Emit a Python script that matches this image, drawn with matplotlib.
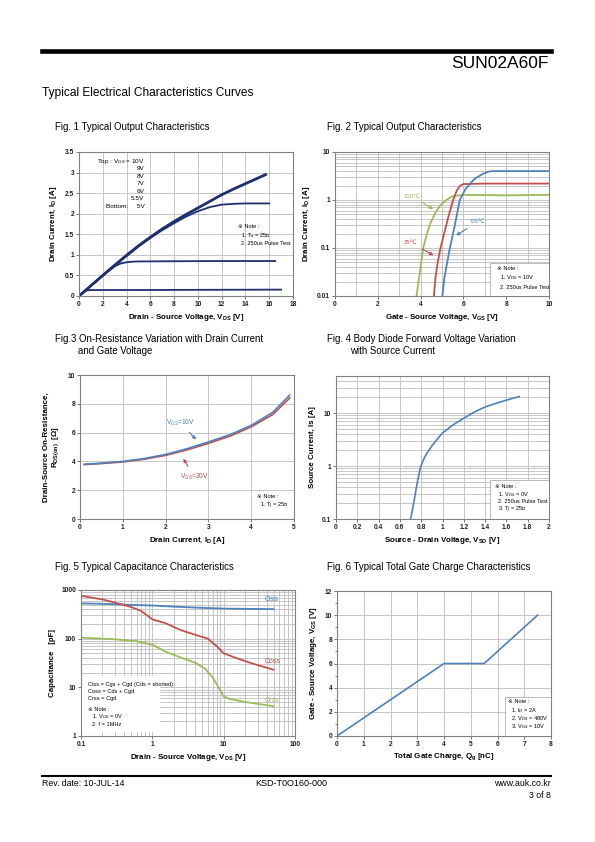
import matplotlib
matplotlib.use('Agg')
import matplotlib.pyplot as plt
from matplotlib.ticker import MultipleLocator, FixedLocator, FuncFormatter
from matplotlib.lines import Line2D
from matplotlib.patches import Rectangle

plt.rcParams['font.family'] = ['Liberation Sans', 'DejaVu Sans', 'Noto Sans CJK KR']
plt.rcParams['mathtext.fontset'] = 'custom'
plt.rcParams['mathtext.rm'] = 'Liberation Sans'
plt.rcParams['mathtext.bf'] = 'Liberation Sans:bold'

W, H = 595, 842

# Fig. 1 output characteristics
vds_top = [0, 1, 2, 3, 4, 5, 6, 7, 8, 9, 10, 11, 12, 13, 14, 15, 15.7]
id_top = [0, 0.25, 0.5, 0.75, 0.99, 1.22, 1.43, 1.63, 1.81, 1.98, 2.14, 2.3, 2.46, 2.6, 2.73, 2.86, 2.95]
vds_6v = [0, 1, 2, 3, 4, 5, 6, 7, 8, 9, 10, 11, 12, 13, 14, 16]
id_6v = [0, 0.25, 0.5, 0.74, 0.97, 1.2, 1.41, 1.6, 1.77, 1.93, 2.06, 2.16, 2.22, 2.24, 2.25, 2.25]
vds_55v = [0, 1, 2, 3, 3.5, 4, 4.5, 5, 8, 12, 16.5]
id_55v = [0, 0.25, 0.5, 0.72, 0.79, 0.82, 0.835, 0.84, 0.845, 0.85, 0.85]
vds_5v = [0, 0.3, 0.6, 0.9, 1.5, 5, 10, 17]
id_5v = [0, 0.07, 0.13, 0.145, 0.145, 0.145, 0.15, 0.155]
vgs_legend = ['Top : V$_{GS}$ = 10V', '9V', '8V', '7V', '6V', '5.5V', 'Bottom:     5V']

# Fig. 2 transfer characteristics
vgs_150 = [3.81, 3.9, 4.0, 4.12, 4.3, 4.46, 4.7, 4.9, 5.2, 5.5, 6.0, 8.0, 10.0]
id_150 = [0.01, 0.02, 0.04, 0.1, 0.2, 0.33, 0.55, 0.75, 1.0, 1.2, 1.28, 1.25, 1.28]
vgs_25 = [4.62, 4.7, 4.8, 4.93, 5.1, 5.3, 5.52, 5.7, 5.85, 6.0, 7.0, 10.0]
id_25 = [0.01, 0.025, 0.05, 0.1, 0.2, 0.45, 1.0, 1.6, 2.0, 2.15, 2.2, 2.2]
vgs_m55 = [5.02, 5.1, 5.2, 5.37, 5.6, 5.83, 6.1, 6.5, 6.9, 7.23, 7.5, 10.0]
id_m55 = [0.01, 0.022, 0.04, 0.1, 0.3, 1.0, 1.7, 2.7, 3.5, 3.95, 4.0, 4.0]

# Fig. 3 on-resistance
id3 = [0.1, 0.5, 1.0, 1.5, 2.0, 2.5, 3.0, 3.5, 4.0, 4.5, 4.9]
r_10v = [3.8, 3.88, 4.0, 4.2, 4.48, 4.88, 5.35, 5.85, 6.5, 7.4, 8.6]
r_20v = [3.78, 3.85, 3.96, 4.15, 4.42, 4.8, 5.25, 5.75, 6.4, 7.25, 8.4]

# Fig. 4 body diode
vsd = [0.7, 0.73, 0.76, 0.79, 0.82, 0.85, 0.9, 0.95, 1.0, 1.1, 1.2, 1.3, 1.4, 1.5, 1.6, 1.72]
isd = [0.1, 0.2, 0.45, 0.9, 1.3, 1.7, 2.4, 3.2, 4.2, 6.0, 8.0, 10.5, 13, 15.2, 17.5, 20.5]

# Fig. 5 capacitance
vds_ciss = [0.1, 0.2, 0.3, 0.5, 1, 2, 5, 10, 20, 50]
ciss = [530, 520, 510, 495, 480, 455, 430, 415, 410, 405]
vds_coss = [0.1, 0.2, 0.3, 0.5, 0.7, 1.0, 1.5, 2.5, 4, 6, 8, 10, 15, 25, 50]
coss = [760, 640, 550, 450, 370, 250, 210, 150, 120, 100, 70, 50, 40, 31, 23]
vds_crss = [0.1, 0.3, 0.6, 1.0, 1.5, 2.5, 4, 5.5, 7, 8.5, 10, 12, 20, 50]
crss = [105, 97, 89, 75, 55, 41, 32, 24, 16, 10, 6.5, 5.8, 5.0, 4.1]

# Fig. 6 gate charge
qg = [0, 4, 5.5, 7.5]
vgs6 = [0, 6, 6, 10]

BLUE, RED, GREEN, NAVY = '#4f81bd', '#c0504d', '#9bbb59', '#1f2f6e'
GRID = '#bdbdbd'


def axes_px(fig, l, t, r, b):
    return fig.add_axes([l / W, 1 - b / H, (r - l) / W, (b - t) / H])


def style(ax, minor_grid=False):
    for s in ax.spines.values():
        s.set_color('#808080')
        s.set_linewidth(0.8)
    ax.tick_params(which='both', labelsize=4.8, length=2, width=0.5, pad=1.5, colors='#404040')
    ax.tick_params(which='minor', length=0)
    ax.grid(True, which='major', color=GRID, lw=0.6)
    if minor_grid:
        ax.grid(True, which='minor', color=GRID, lw=0.6)
    ax.set_axisbelow(True)
    for lab in ax.get_xticklabels() + ax.get_yticklabels():
        lab.set_fontweight('bold')
        lab.set_color('#202020')


def labels(ax, xl, yl, ylpad=4):
    ax.set_xlabel(xl, fontsize=5.7, fontweight='bold', labelpad=3)
    ax.set_ylabel(yl, fontsize=5.7, fontweight='bold', labelpad=ylpad)


fmt = FuncFormatter(lambda v, p: '%g' % v)
fig = plt.figure(figsize=(W / 100, H / 100), dpi=100)


def ftext(x, y, s, **kw):
    fig.text(x / W, 1 - y / H, s, **kw)


# header / footer
fig.add_artist(Line2D([42 / W, 551 / W], [1 - 50.5 / H] * 2, color='black', lw=3.3))
ftext(549, 63, 'SUN02A60F', fontsize=12.5, ha='right', va='center')
ftext(42, 93, 'Typical Electrical Characteristics Curves', fontsize=8.6, va='center')
fig.add_artist(Line2D([42 / W, 551 / W], [1 - 776 / H] * 2, color='black', lw=1.5))
ftext(42, 784, 'Rev. date: 10-JUL-14', fontsize=6.3, va='center')
ftext(291, 784, 'KSD-T0O160-000', fontsize=6.5, va='center', ha='center')
ftext(551, 784, 'www.auk.co.kr', fontsize=6.3, va='center', ha='right')
ftext(551, 796, '3 of 8', fontsize=6.3, va='center', ha='right')

tkw = dict(fontsize=6.9, va='center')
ftext(55, 127, 'Fig. 1 Typical Output Characteristics', **tkw)
ftext(327, 127, 'Fig. 2 Typical Output Characteristics', **tkw)
ftext(55, 339, 'Fig.3 On-Resistance Variation with Drain Current', **tkw)
ftext(78, 351, 'and Gate Voltage', **tkw)
ftext(327, 339, 'Fig. 4 Body Diode Forward Voltage Variation', **tkw)
ftext(350, 351, 'with Source Current', **tkw)
ftext(55, 567, 'Fig. 5 Typical Capacitance Characteristics', **tkw)
ftext(327, 567, 'Fig. 6 Typical Total Gate Charge Characteristics', **tkw)

nkw = dict(fontsize=4.1, va='center')

# ---- Fig 1
ax1 = axes_px(fig, 79, 152, 293, 296)
ax1.plot(vds_5v, id_5v, color=NAVY, lw=1.3)
ax1.plot(vds_55v, id_55v, color=NAVY, lw=1.3)
ax1.plot(vds_6v, id_6v, color=NAVY, lw=1.3)
ax1.plot(vds_top, id_top, color=NAVY, lw=2.0)
ax1.set_xlim(0, 18)
ax1.set_ylim(0, 3.5)
ax1.xaxis.set_major_locator(MultipleLocator(2))
ax1.yaxis.set_major_locator(MultipleLocator(0.5))
ax1.yaxis.set_major_formatter(fmt)
style(ax1)
labels(ax1, 'Drain - Source Voltage, V$_{\\mathbf{DS}}$ [V]', 'Drain Current, I$_{\\mathbf{D}}$ [A]')
lkw = dict(fontsize=4.6, va='center')
for i, s in enumerate(vgs_legend):
    if i == 0:
        ax1.text(0.085, 0.935, s, transform=ax1.transAxes, **lkw)
    else:
        ax1.text(0.305, 0.935 - i * 0.052, s, transform=ax1.transAxes, ha='right', **lkw)
ax1.text(0.743, 0.48, '※ Note :', transform=ax1.transAxes, **nkw)
ax1.text(0.755, 0.422, '1. T$_a$ = 25℃', transform=ax1.transAxes, **nkw)
ax1.text(0.755, 0.364, '2. 250us Pulse Test', transform=ax1.transAxes, **nkw)

# ---- Fig 2
ax2 = axes_px(fig, 335, 152, 549, 296)
ax2.plot(vgs_150, id_150, color=GREEN, lw=1.3)
ax2.plot(vgs_25, id_25, color=RED, lw=1.3)
ax2.plot(vgs_m55, id_m55, color=BLUE, lw=1.3)
ax2.set_yscale('log')
ax2.set_xlim(0, 10)
ax2.set_ylim(0.01, 10)
ax2.xaxis.set_major_locator(MultipleLocator(2))
ax2.xaxis.set_minor_locator(MultipleLocator(1))
ax2.yaxis.set_major_formatter(fmt)
ax2.yaxis.set_minor_formatter(FuncFormatter(lambda v, p: ''))
style(ax2, minor_grid=True)
labels(ax2, 'Gate - Source Voltage, V$_{\\mathbf{GS}}$ [V]', 'Drain Current, I$_{\\mathbf{D}}$ [A]')
akw = dict(arrowstyle='-|>', lw=0.8, mutation_scale=5)
ax2.annotate('150℃', xy=(4.7, 0.6), xytext=(3.2, 1.2), fontsize=4.4, color=GREEN,
             va='center', arrowprops=dict(color=GREEN, **akw))
ax2.annotate('25℃', xy=(4.72, 0.066), xytext=(3.2, 0.13), fontsize=4.4, color=RED,
             va='center', arrowprops=dict(color=RED, **akw))
ax2.annotate('-55℃', xy=(5.55, 0.17), xytext=(6.3, 0.35), fontsize=4.4, color=BLUE,
             va='center', arrowprops=dict(color=BLUE, **akw))
ax2.add_patch(Rectangle((0.723, 0.0), 0.277, 0.227, transform=ax2.transAxes,
                        facecolor='white', edgecolor='#a0a0a0', lw=0.5, zorder=3))
ax2.text(0.757, 0.194, '※ Note :', transform=ax2.transAxes, zorder=4, **nkw)
ax2.text(0.77, 0.13, '1. V$_{DS}$ = 10V', transform=ax2.transAxes, zorder=4, **nkw)
ax2.text(0.77, 0.062, '2. 250us Pulse Test', transform=ax2.transAxes, zorder=4, **nkw)

# ---- Fig 3
ax3 = axes_px(fig, 80, 375, 294, 519)
ax3.plot(id3, r_20v, color=RED, lw=1.2)
ax3.plot(id3, r_10v, color=BLUE, lw=1.2)
ax3.set_xlim(0, 5)
ax3.set_ylim(0, 10)
ax3.xaxis.set_major_locator(MultipleLocator(1))
ax3.yaxis.set_major_locator(MultipleLocator(2))
style(ax3)
labels(ax3, 'Drain Current, I$_{\\mathbf{D}}$ [A]',
       'Drain-Source On-Resistance,\nR$_{\\mathbf{DS(on)}}$  [Ω]', ylpad=4)
ax3.annotate('V$_{GS}$=10V', xy=(2.76, 5.38), xytext=(2.0, 6.7), fontsize=4.8, color=BLUE,
             va='center', arrowprops=dict(color=BLUE, **akw))
ax3.annotate('V$_{GS}$=20V', xy=(2.38, 4.35), xytext=(2.33, 2.95), fontsize=4.8, color=RED,
             va='center', arrowprops=dict(color=RED, **akw))
ax3.text(0.827, 0.153, '※ Note :', transform=ax3.transAxes, **nkw)
ax3.text(0.84, 0.09, '1. T$_J$ = 25℃', transform=ax3.transAxes, **nkw)

# ---- Fig 4
ax4 = axes_px(fig, 336, 376, 549, 519)
ax4.plot(vsd, isd, color=BLUE, lw=1.2)
ax4.set_yscale('log')
ax4.set_xlim(0, 2)
ax4.set_ylim(0.1, 50)
ax4.xaxis.set_major_locator(MultipleLocator(0.2))
ax4.xaxis.set_major_formatter(fmt)
ax4.yaxis.set_major_locator(FixedLocator([0.1, 1, 10]))
ax4.yaxis.set_major_formatter(fmt)
ax4.yaxis.set_minor_formatter(FuncFormatter(lambda v, p: ''))
style(ax4, minor_grid=True)
labels(ax4, 'Source - Drain Voltage, V$_{\\mathbf{SD}}$ [V]', 'Source Current, Is [A]')
ax4.add_patch(Rectangle((0.722, 0.0), 0.278, 0.274, transform=ax4.transAxes,
                        facecolor='white', edgecolor='#a0a0a0', lw=0.5, zorder=3))
ax4.text(0.746, 0.228, '※ Note :', transform=ax4.transAxes, zorder=4, **nkw)
ax4.text(0.76, 0.174, '1. V$_{GS}$ = 0V', transform=ax4.transAxes, zorder=4, **nkw)
ax4.text(0.76, 0.122, '2. 250us Pulse Test', transform=ax4.transAxes, zorder=4, **nkw)
ax4.text(0.76, 0.064, '3. T$_J$ = 25℃', transform=ax4.transAxes, zorder=4, **nkw)

# ---- Fig 5
ax5 = axes_px(fig, 81, 590, 295, 736)
ax5.plot(vds_ciss, ciss, color=BLUE, lw=1.3)
ax5.plot(vds_coss, coss, color=RED, lw=1.3)
ax5.plot(vds_crss, crss, color=GREEN, lw=1.3)
ax5.set_xscale('log')
ax5.set_yscale('log')
ax5.set_xlim(0.1, 100)
ax5.set_ylim(1, 1000)
ax5.xaxis.set_major_formatter(fmt)
ax5.yaxis.set_major_formatter(fmt)
ax5.xaxis.set_minor_formatter(FuncFormatter(lambda v, p: ''))
ax5.yaxis.set_minor_formatter(FuncFormatter(lambda v, p: ''))
style(ax5, minor_grid=True)
labels(ax5, 'Drain - Source Voltage, V$_{\\mathbf{DS}}$ [V]', 'Capacitance   [pF]')
ax5.text(37, 530, 'Ciss', fontsize=5, color=BLUE, va='bottom')
ax5.text(37, 29, 'Coss', fontsize=5, color=RED, va='bottom')
ax5.text(37, 4.6, 'Crss', fontsize=5, color=GREEN, va='bottom')
ax5.add_patch(Rectangle((0.0, 0.03), 0.37, 0.38, transform=ax5.transAxes,
                        facecolor='white', edgecolor='none', zorder=1.5))
ax5.text(0.033, 0.356, 'Ciss = Cgs + Cgd (Cds = shorted)', transform=ax5.transAxes, zorder=4, **nkw)
ax5.text(0.033, 0.308, 'Coss = Cds + Cgd', transform=ax5.transAxes, zorder=4, **nkw)
ax5.text(0.033, 0.26, 'Crss = Cgd', transform=ax5.transAxes, zorder=4, **nkw)
ax5.text(0.033, 0.182, '※ Note :', transform=ax5.transAxes, zorder=4, **nkw)
ax5.text(0.05, 0.132, '1. V$_{GS}$ = 0V', transform=ax5.transAxes, zorder=4, **nkw)
ax5.text(0.05, 0.08, '2. f = 1MHz', transform=ax5.transAxes, zorder=4, **nkw)

# ---- Fig 6
ax6 = axes_px(fig, 337, 591, 551, 736)
ax6.plot(qg, vgs6, color=BLUE, lw=1.2)
ax6.set_xlim(0, 8)
ax6.set_ylim(0, 12)
ax6.xaxis.set_major_locator(MultipleLocator(1))
ax6.yaxis.set_major_locator(MultipleLocator(2))
ax6.yaxis.set_minor_locator(MultipleLocator(1))
style(ax6)
ax6.tick_params(axis='y', which='minor', length=1.5, width=0.5)
labels(ax6, 'Total Gate Charge, Q$_{\\mathbf{g}}$ [nC]', 'Gate - Source Voltage, V$_{\\mathbf{GS}}$ [V]')
ax6.add_patch(Rectangle((0.787, 0.0), 0.213, 0.27, transform=ax6.transAxes,
                        facecolor='white', edgecolor='#a0a0a0', lw=0.5, zorder=3))
ax6.text(0.80, 0.235, '※ Note :', transform=ax6.transAxes, zorder=4, **nkw)
ax6.text(0.815, 0.178, '1. I$_D$ = 2A', transform=ax6.transAxes, zorder=4, **nkw)
ax6.text(0.815, 0.122, '2. V$_{DS}$ = 480V', transform=ax6.transAxes, zorder=4, **nkw)
ax6.text(0.815, 0.066, '3. V$_{GS}$ = 10V', transform=ax6.transAxes, zorder=4, **nkw)

fig.savefig('out.png', dpi=100)
